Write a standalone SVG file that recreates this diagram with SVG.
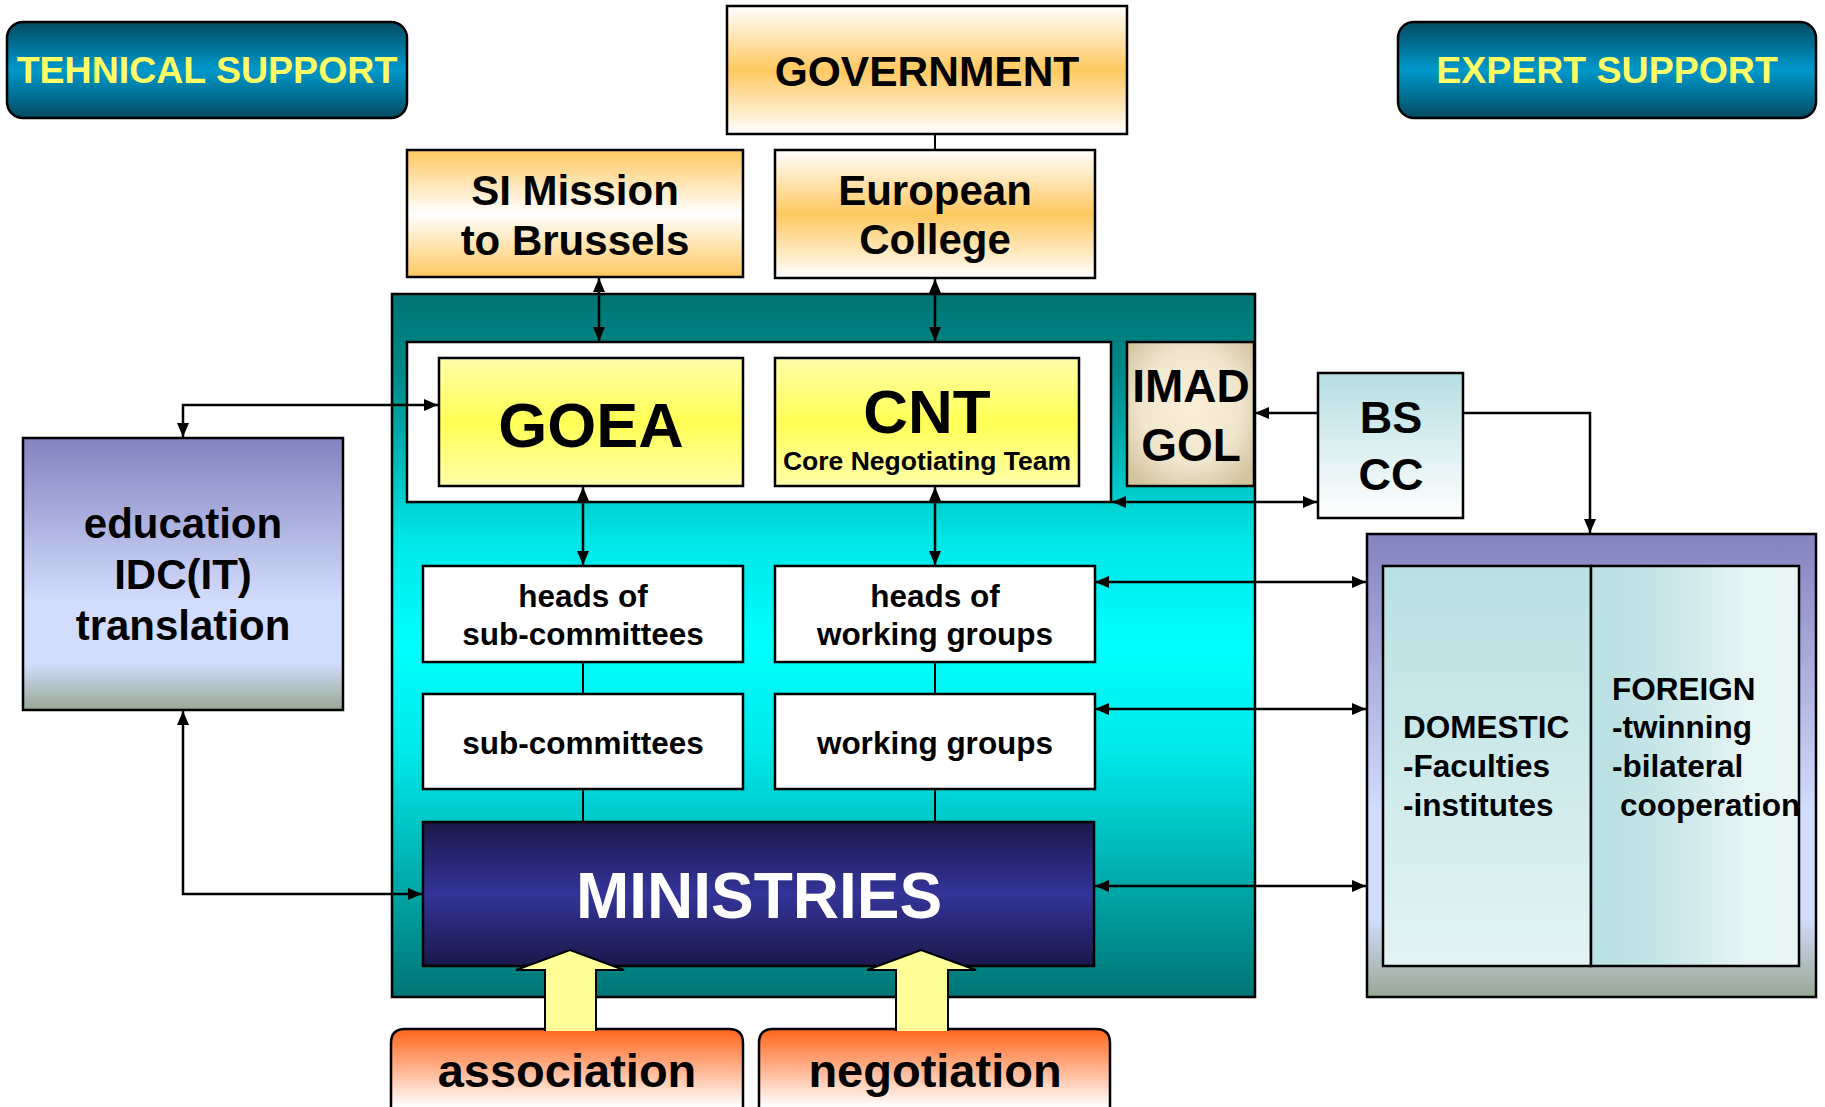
<svg xmlns="http://www.w3.org/2000/svg" width="1825" height="1107" viewBox="0 0 1825 1107">
<defs>
<style>
text{font-family:"Liberation Sans",Arial,sans-serif;font-weight:bold;text-anchor:middle;fill:#000}
.box{stroke:#000;stroke-width:2.5}
.ln{stroke:#000;stroke-width:2.5;fill:none}
.thin{stroke:#000;stroke-width:2;fill:none}
.lt{text-anchor:start}
</style>
<marker id="ah" viewBox="0 0 14 12" refX="14" refY="6" markerWidth="14" markerHeight="12" markerUnits="userSpaceOnUse" orient="auto-start-reverse"><path d="M0,0 L14,6 L0,12 Z" fill="#000"/></marker>
<linearGradient id="gSupport" x1="0" y1="0" x2="0" y2="1"><stop offset="0" stop-color="#024A60"/><stop offset="0.5" stop-color="#0099CC"/><stop offset="1" stop-color="#024A60"/></linearGradient>
<linearGradient id="gOrangeMid" x1="0" y1="0" x2="0" y2="1"><stop offset="0" stop-color="#FFFFFF"/><stop offset="0.5" stop-color="#FFC860"/><stop offset="1" stop-color="#FFFFFF"/></linearGradient>
<linearGradient id="gOrangeEdge" x1="0" y1="0" x2="0" y2="1"><stop offset="0" stop-color="#FFC860"/><stop offset="0.5" stop-color="#FFFFFF"/><stop offset="1" stop-color="#FFC860"/></linearGradient>
<linearGradient id="gTeal" x1="0" y1="0" x2="0" y2="1"><stop offset="0" stop-color="#007474"/><stop offset="0.12" stop-color="#008A8A"/><stop offset="0.35" stop-color="#00E6E6"/><stop offset="0.5" stop-color="#00FFFF"/><stop offset="0.65" stop-color="#00E8E8"/><stop offset="1" stop-color="#007474"/></linearGradient>
<linearGradient id="gYellow" x1="0" y1="0" x2="0" y2="1"><stop offset="0" stop-color="#FFFFAA"/><stop offset="0.5" stop-color="#FFFF55"/><stop offset="1" stop-color="#FFFFAA"/></linearGradient>
<radialGradient id="gBeige" cx="0.5" cy="0.45" r="0.65"><stop offset="0" stop-color="#FCEED6"/><stop offset="0.6" stop-color="#F0E6CE"/><stop offset="1" stop-color="#D2C49E"/></radialGradient>
<linearGradient id="gBS" x1="0" y1="0" x2="0" y2="1"><stop offset="0" stop-color="#B6DEE2"/><stop offset="1" stop-color="#FFFFFF"/></linearGradient>
<linearGradient id="gPurple" x1="0" y1="0" x2="0" y2="1"><stop offset="0" stop-color="#8383C0"/><stop offset="0.6" stop-color="#D2DCFC"/><stop offset="0.83" stop-color="#D2DCFC"/><stop offset="1" stop-color="#98A894"/></linearGradient>
<linearGradient id="gDom" x1="0" y1="0" x2="0" y2="1"><stop offset="0" stop-color="#B8E0E2"/><stop offset="1" stop-color="#E4F3F3"/></linearGradient>
<linearGradient id="gFor" x1="0" y1="0" x2="1" y2="0"><stop offset="0" stop-color="#B8E0E2"/><stop offset="0.3" stop-color="#C4E4E6"/><stop offset="0.75" stop-color="#E6F4F4"/><stop offset="1" stop-color="#EAF6F6"/></linearGradient>
<linearGradient id="gMin" x1="0" y1="0" x2="0" y2="1"><stop offset="0" stop-color="#1A184A"/><stop offset="0.5" stop-color="#343499"/><stop offset="1" stop-color="#1A184A"/></linearGradient>
<linearGradient id="gRed" gradientUnits="userSpaceOnUse" x1="0" y1="1029" x2="0" y2="1107"><stop offset="0" stop-color="#FF641A"/><stop offset="1" stop-color="#FFFFFF"/></linearGradient>
</defs>

<g id="tehnical-support"><rect class="box" x="7" y="22" width="400" height="96" rx="16" fill="url(#gSupport)"/><text x="207" y="83" font-size="37.5" style="fill:#FFFF66">TEHNICAL SUPPORT</text></g>
<g id="expert-support"><rect class="box" x="1398" y="22" width="418" height="96" rx="16" fill="url(#gSupport)"/><text x="1607" y="83" font-size="37.5" style="fill:#FFFF66">EXPERT SUPPORT</text></g>
<g id="government"><rect class="box" x="727" y="6" width="400" height="128" fill="url(#gOrangeMid)"/><text x="927" y="86" font-size="42.5">GOVERNMENT</text></g>
<g id="si-mission"><rect class="box" x="407" y="150" width="336" height="127" fill="url(#gOrangeEdge)"/><text x="575" y="205" font-size="42">SI Mission</text><text x="575" y="255" font-size="42">to Brussels</text></g>
<g id="european-college"><rect class="box" x="775" y="150" width="320" height="128" fill="url(#gOrangeMid)"/><text x="935" y="205" font-size="42">European</text><text x="935" y="254" font-size="42">College</text></g>

<g id="core-area"><rect class="box" x="392" y="294" width="863" height="703" fill="url(#gTeal)"/><rect class="box" x="407" y="342" width="704" height="160" fill="#FFFFFF"/></g>
<g id="goea"><rect class="box" x="439" y="358" width="304" height="128" fill="url(#gYellow)"/><text x="591" y="447" font-size="63">GOEA</text></g>
<g id="cnt"><rect class="box" x="775" y="358" width="304" height="128" fill="url(#gYellow)"/><text x="927" y="433" font-size="62">CNT</text><text x="927" y="470" font-size="26.5">Core Negotiating Team</text></g>
<g id="imad-gol"><rect class="box" x="1127" y="342" width="127" height="144" fill="url(#gBeige)"/><text x="1191" y="402" font-size="46">IMAD</text><text x="1191" y="461" font-size="46">GOL</text></g>
<g id="bs-cc"><rect class="box" x="1318" y="373" width="145" height="145" fill="url(#gBS)"/><text x="1391" y="433" font-size="45">BS</text><text x="1391" y="490" font-size="45">CC</text></g>
<g id="education"><rect class="box" x="23" y="438" width="320" height="272" fill="url(#gPurple)"/><text x="183" y="538" font-size="42">education</text><text x="183" y="589" font-size="42">IDC(IT)</text><text x="183" y="640" font-size="42">translation</text></g>
<g id="heads-sub"><rect class="box" x="423" y="566" width="320" height="96" fill="#FFFFFF"/><text x="583" y="607" font-size="31.5">heads of</text><text x="583" y="645" font-size="31.5">sub-committees</text></g>
<g id="heads-wg"><rect class="box" x="775" y="566" width="320" height="96" fill="#FFFFFF"/><text x="935" y="607" font-size="31.5">heads of</text><text x="935" y="645" font-size="31.5">working groups</text></g>
<g id="sub-committees"><rect class="box" x="423" y="694" width="320" height="95" fill="#FFFFFF"/><text x="583" y="754" font-size="31.5">sub-committees</text></g>
<g id="working-groups"><rect class="box" x="775" y="694" width="320" height="95" fill="#FFFFFF"/><text x="935" y="754" font-size="31.5">working groups</text></g>
<g id="ministries"><rect class="box" x="423" y="822" width="671" height="144" fill="url(#gMin)"/><text x="759" y="918" font-size="64" style="fill:#FFFFFF">MINISTRIES</text></g>
<g id="expertise"><rect class="box" x="1367" y="534" width="449" height="463" fill="url(#gPurple)"/><rect class="box" x="1383" y="566" width="208" height="400" fill="url(#gDom)"/><rect class="box" x="1591" y="566" width="208" height="400" fill="url(#gFor)"/>
<text class="lt" x="1403" y="738" font-size="31.5">DOMESTIC</text><text class="lt" x="1403" y="777" font-size="31.5">-Faculties</text><text class="lt" x="1403" y="816" font-size="31.5">-institutes</text>
<text class="lt" x="1612" y="700" font-size="31.5">FOREIGN</text><text class="lt" x="1612" y="738" font-size="31.5">-twinning</text><text class="lt" x="1612" y="777" font-size="31.5">-bilateral</text><text class="lt" x="1620" y="816" font-size="31.5">cooperation</text></g>
<g id="association"><path class="box" d="M391,1130 V1043 Q391,1029 405,1029 H729 Q743,1029 743,1043 V1130 Z" fill="url(#gRed)"/><text x="567" y="1087" font-size="47">association</text></g>
<g id="negotiation"><path class="box" d="M759,1130 V1043 Q759,1029 773,1029 H1096 Q1110,1029 1110,1043 V1130 Z" fill="url(#gRed)"/><text x="935" y="1087" font-size="47">negotiation</text></g>

<g id="connectors">
<line class="thin" x1="935" y1="134" x2="935" y2="150"/>
<line class="ln" x1="599" y1="278" x2="599" y2="341" marker-start="url(#ah)" marker-end="url(#ah)"/>
<line class="ln" x1="935" y1="279" x2="935" y2="341" marker-start="url(#ah)" marker-end="url(#ah)"/>
<line class="ln" x1="583" y1="487" x2="583" y2="565" marker-start="url(#ah)" marker-end="url(#ah)"/>
<line class="ln" x1="935" y1="487" x2="935" y2="565" marker-start="url(#ah)" marker-end="url(#ah)"/>
<line class="thin" x1="583" y1="662" x2="583" y2="694"/>
<line class="thin" x1="935" y1="662" x2="935" y2="694"/>
<line class="thin" x1="583" y1="789" x2="583" y2="822"/>
<line class="thin" x1="935" y1="789" x2="935" y2="822"/>
<path class="ln" d="M183,437 V405 H438" marker-start="url(#ah)" marker-end="url(#ah)"/>
<path class="ln" d="M183,711 V894 H422" marker-start="url(#ah)" marker-end="url(#ah)"/>
<line class="ln" x1="1318" y1="413" x2="1255" y2="413" marker-end="url(#ah)"/>
<line class="ln" x1="1112" y1="502" x2="1317" y2="502" marker-start="url(#ah)" marker-end="url(#ah)"/>
<path class="ln" d="M1463,413 H1590 V533" marker-end="url(#ah)"/>
<line class="ln" x1="1095" y1="582" x2="1366" y2="582" marker-start="url(#ah)" marker-end="url(#ah)"/>
<line class="ln" x1="1095" y1="709" x2="1366" y2="709" marker-start="url(#ah)" marker-end="url(#ah)"/>
<line class="ln" x1="1095" y1="886" x2="1366" y2="886" marker-start="url(#ah)" marker-end="url(#ah)"/>
<path d="M545,1031 V970 H516 L570,950 L624,970 H596 V1031" fill="#FFFF99" stroke="#000" stroke-width="2"/>
<path d="M896,1031 V970 H867 L921,950 L976,970 H948 V1031" fill="#FFFF99" stroke="#000" stroke-width="2"/>
</g>
</svg>
